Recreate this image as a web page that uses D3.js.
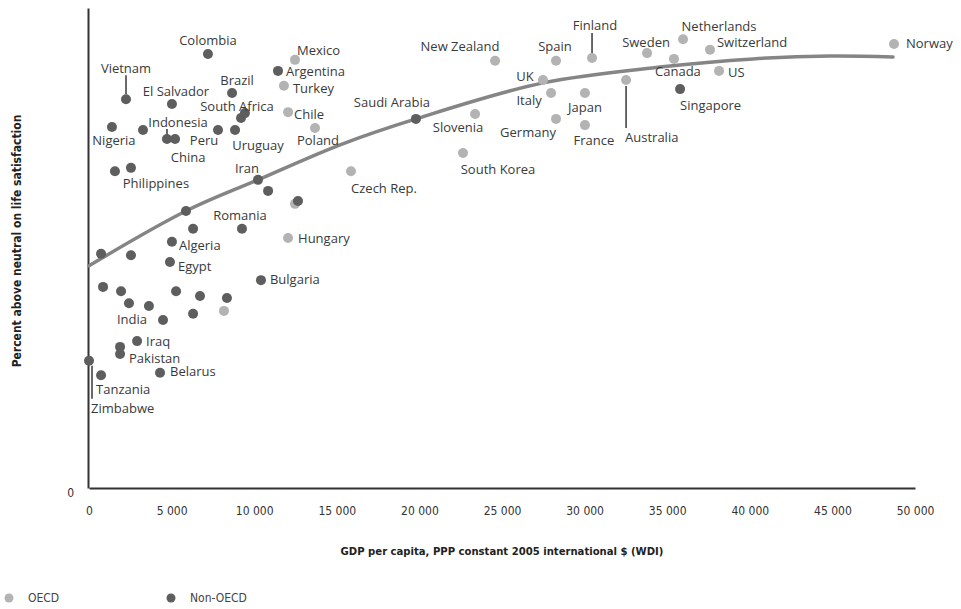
<!DOCTYPE html>
<html>
<head>
<meta charset="utf-8">
<script src="https://cdn.jsdelivr.net/npm/d3@7"></script>
<style>
  body { margin: 0; background: #fff; }
  svg { display: block; }
  .lbl { font-family: "Open Sans", sans-serif; font-size: 13px; fill: #3a3a3a; }
  .tick text { font-family: "DejaVu Sans Condensed", "Liberation Sans Narrow", sans-serif; font-size: 12px; fill: #333; }
</style>
</head>
<body>
<svg id="chart"></svg>
<script>
// GDP per capita vs percent above neutral on life satisfaction
const oecdNames = ["Mexico", "Turkey", "Chile", "Poland", "Czech Rep.", "Hungary", "", "",
    "Slovenia", "South Korea", "New Zealand", "Spain", "Finland", "UK", "Italy", "Japan",
    "Germany", "France", "Australia", "Sweden", "Netherlands", "Canada", "Switzerland", "US", "Norway"];
const oecdGdp = [12470, 11800, 12050, 13680, 15860, 12050, 12470, 8170,
    23370, 22640, 24580, 28270, 30450, 27480, 27970, 30020,
    28270, 30020, 32510, 33780, 35960, 35410, 37590, 38140, 48730];
const oecdSat = [89.2, 83.8, 78.3, 75.0, 66.0, 52.1, 59.2, 36.9,
    77.9, 69.8, 89.0, 89.0, 89.6, 85.0, 82.3, 82.3,
    76.9, 75.6, 85.0, 90.6, 93.5, 89.4, 91.3, 86.9, 92.5];

const nonOecdNames = ["Colombia", "Vietnam", "El Salvador", "Brazil", "Argentina", "South Africa", "",
    "Nigeria", "", "Indonesia", "China", "Peru", "Uruguay", "Philippines", "", "Iran", "", "", "",
    "Romania", "", "Algeria", "Egypt", "", "", "Bulgaria", "", "", "", "", "", "", "", "",
    "India", "Iraq", "", "Pakistan", "Zimbabwe", "Tanzania", "Belarus", "Singapore", "Saudi Arabia"];
const nonOecdGdp = [7200, 2240, 5020, 8660, 11440, 9200, 9440,
    1390, 3270, 4720, 5210, 7810, 8840, 1570, 2540, 10230, 10840, 12650, 5870,
    9260, 6300, 5020, 4900, 730, 2540, 10410, 850, 1940, 5270, 6720, 8350, 2420, 3630, 6300,
    4480, 2910, 1880, 1880, 0, 730, 4300, 35780, 19790];
const nonOecdSat = [90.4, 81.0, 80.0, 82.3, 86.9, 77.1, 78.1,
    75.2, 74.6, 72.7, 72.7, 74.6, 74.6, 66.0, 66.7, 64.2, 61.9, 59.8, 57.7,
    54.0, 54.0, 51.3, 47.1, 48.8, 48.5, 43.3, 41.9, 41.0, 41.0, 40.0, 39.6, 38.5, 37.9, 36.3,
    35.0, 30.6, 29.4, 27.9, 26.5, 23.5, 24.0, 83.1, 76.9];

// fitted trend
const trendGdp = [0, 5870, 10230, 15200, 19790, 27480, 34560, 40190, 44850, 48670];
const trendSat = [46.3, 57.7, 64.2, 71.5, 76.9, 84.4, 87.7, 89.4, 90.0, 89.8];

const xTicks = [0, 5000, 10000, 15000, 20000, 25000, 30000, 35000, 40000, 45000, 50000];

// label placement: [dx, dy, anchor], optional leader [x1, y1, x2, y2] relative to the dot
const labelPos = {
    "Colombia": [0, -14, "middle"], "Vietnam": [0, -31, "middle", [0, -5, 0, -24]],
    "El Salvador": [4, -13, "middle"], "Brazil": [5, -13, "middle"], "Argentina": [8, 1, "start"],
    "South Africa": [-4, -11, "middle"], "Nigeria": [2, 13, "middle"],
    "Indonesia": [11, -17, "middle", [0, -3, 0, -10]], "China": [13, 18, "middle"],
    "Peru": [-14, 11, "middle"], "Uruguay": [23, 16, "middle"], "Philippines": [41, 12, "middle"],
    "Iran": [-11, -11, "middle"], "Romania": [-2, -13, "middle"], "Algeria": [7, 4, "start"],
    "Egypt": [8, 5, "start"], "Bulgaria": [9, -1, "start"], "India": [-16, -1, "end"],
    "Iraq": [9, 0, "start"], "Pakistan": [9, 4, "start"],
    "Zimbabwe": [2, 48, "start", [3, 5, 3, 38]], "Tanzania": [-5, 14, "start"],
    "Belarus": [10, -1, "start"], "Singapore": [0, 16, "start"], "Saudi Arabia": [-24, -16, "middle"],
    "Mexico": [2, -9, "start"], "Turkey": [9, 3, "start"], "Chile": [6, 2, "start"],
    "Poland": [3, 12, "middle"], "Czech Rep.": [33, 17, "middle"], "Hungary": [10, 1, "start"],
    "Slovenia": [-17, 13, "middle"], "South Korea": [35, 16, "middle"],
    "New Zealand": [-35, -14, "middle"], "Spain": [-1, -14, "middle"],
    "Finland": [3, -32, "middle", [0, -5, 0, -25]], "UK": [-18, -4, "middle"],
    "Italy": [-22, 7, "middle"], "Japan": [0, 14, "middle"], "Germany": [-28, 14, "middle"],
    "France": [9, 15, "middle"], "Australia": [-1, 57, "start", [0, 6, 0, 48]],
    "Sweden": [-1, -11, "middle"], "Netherlands": [36, -13, "middle"], "Canada": [4, 13, "middle"],
    "Switzerland": [7, -7, "start"], "US": [9, 2, "start"], "Norway": [12, -1, "start"]
};

const width = 961;
const height = 609;
const oecdColor = "#b3b3b3";
const nonOecdColor = "#5e5e5e";

const svg = d3.select("#chart").attr("width", width).attr("height", height);

const xScale = d3.scaleLinear().domain([0, 50000]).range([89, 915]);
const yScale = d3.scaleLinear().domain([0, 100]).range([488, 8]);

// axes
const xAxis = svg.append("g")
    .attr("class", "x-axis")
    .attr("transform", `translate(0,${yScale(0)})`)
    .call(d3.axisBottom(xScale).tickValues(xTicks).tickSize(0).tickPadding(18)
        .tickFormat(d => d3.format(",")(d).replace(",", " ")));
xAxis.select(".domain").attr("stroke", "#333").attr("stroke-width", 2);

const yAxis = svg.append("g")
    .attr("class", "y-axis")
    .attr("transform", `translate(${xScale(0) - 1},0)`)
    .call(d3.axisLeft(yScale).tickValues([0]).tickSize(0).tickPadding(14));
yAxis.select(".domain").attr("stroke", "#333").attr("stroke-width", 2);
yAxis.selectAll(".tick text").attr("dy", "0.7em");

svg.append("text")
    .attr("x", 502)
    .attr("y", 555)
    .attr("text-anchor", "middle")
    .style("font-family", "'DejaVu Sans Condensed', 'Liberation Sans Narrow', sans-serif")
    .style("font-size", "11.2px")
    .style("font-weight", "bold")
    .style("fill", "#222")
    .text("GDP per capita, PPP constant 2005 international $ (WDI)");

svg.append("text")
    .attr("transform", "rotate(-90)")
    .attr("x", -241)
    .attr("y", 21)
    .attr("text-anchor", "middle")
    .style("font-family", "'DejaVu Sans Condensed', 'Liberation Sans Narrow', sans-serif")
    .style("font-size", "12px")
    .style("font-weight", "bold")
    .style("fill", "#222")
    .text("Percent above neutral on life satisfaction");

// trend curve
const trend = trendGdp.map((g, i) => [g, trendSat[i]]);
svg.append("path")
    .datum(trend)
    .attr("fill", "none")
    .attr("stroke", "#858585")
    .attr("stroke-width", 3.5)
    .attr("stroke-linecap", "round")
    .attr("d", d3.line().x(d => xScale(d[0])).y(d => yScale(d[1])).curve(d3.curveCatmullRom));

const points = [];
oecdNames.forEach((n, i) => points.push({ name: n, gdp: oecdGdp[i], sat: oecdSat[i], oecd: true }));
nonOecdNames.forEach((n, i) => points.push({ name: n, gdp: nonOecdGdp[i], sat: nonOecdSat[i], oecd: false }));

// leader lines
svg.selectAll(".leader")
    .data(points.filter(d => labelPos[d.name] && labelPos[d.name][3]))
    .enter().append("line")
    .attr("class", "leader")
    .attr("x1", d => xScale(d.gdp) + labelPos[d.name][3][0])
    .attr("y1", d => yScale(d.sat) + labelPos[d.name][3][1])
    .attr("x2", d => xScale(d.gdp) + labelPos[d.name][3][2])
    .attr("y2", d => yScale(d.sat) + labelPos[d.name][3][3])
    .attr("stroke", "#444")
    .attr("stroke-width", 1.6);

svg.selectAll(".dot")
    .data(points)
    .enter().append("circle")
    .attr("class", "dot")
    .attr("cx", d => xScale(d.gdp))
    .attr("cy", d => yScale(d.sat))
    .attr("r", 5)
    .attr("fill", d => d.oecd ? oecdColor : nonOecdColor);

svg.selectAll(".lbl")
    .data(points.filter(d => d.name !== ""))
    .enter().append("text")
    .attr("class", "lbl")
    .attr("x", d => xScale(d.gdp) + labelPos[d.name][0])
    .attr("y", d => yScale(d.sat) + labelPos[d.name][1])
    .attr("dy", "0.35em")
    .attr("text-anchor", d => labelPos[d.name][2])
    .text(d => d.name);

// legend
const legend = [["OECD", oecdColor, 9], ["Non-OECD", nonOecdColor, 171]];
legend.forEach(([label, color, lx]) => {
    svg.append("circle").attr("cx", lx).attr("cy", 598).attr("r", 4.5).attr("fill", color);
    svg.append("text")
        .attr("x", lx + 19)
        .attr("y", 598)
        .attr("dy", "0.35em")
        .style("font-family", "'DejaVu Sans Condensed', 'Liberation Sans Narrow', sans-serif")
        .style("font-size", "12px")
        .style("fill", "#444")
        .text(label);
});
</script>
</body>
</html>
